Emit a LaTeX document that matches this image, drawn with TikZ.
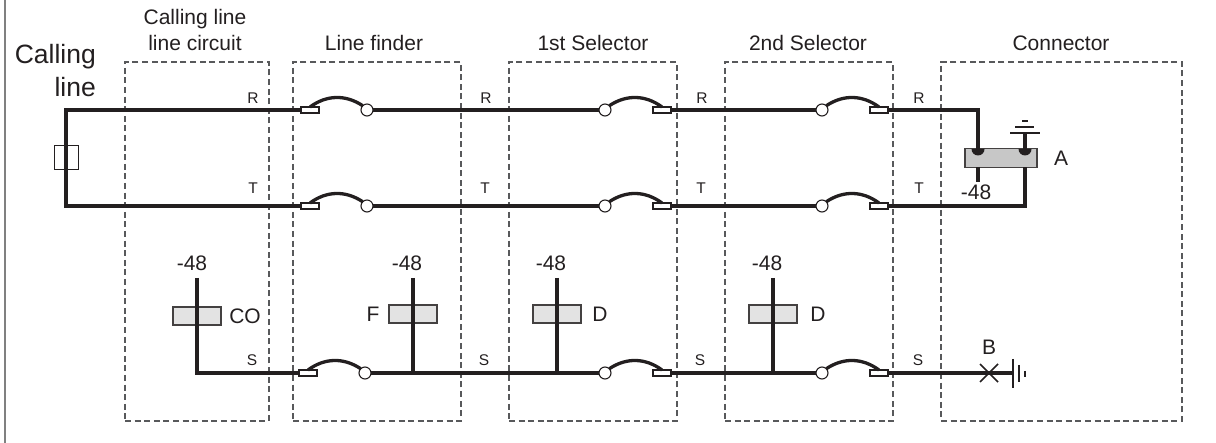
\documentclass[tikz,border=0pt]{standalone}
\usepackage{fontspec}
\setmainfont{Liberation Sans}
\definecolor{inkline}{HTML}{231F20}
\definecolor{dashgray}{HTML}{58595B}
\tikzset{
 wire/.style={draw=inkline, line width=3.7pt},
 springarm/.style={draw=inkline, line width=3.3pt, bend left=35},
 groupbox/.style={draw=dashgray, dashed, dash pattern=on 6pt off 3.6pt, line width=1.3pt, anchor=north west, inner sep=0pt, outer sep=0pt},
 contact/.style={draw=inkline, fill=white, line width=1.1pt, minimum width=18pt, minimum height=6pt, inner sep=0pt, outer sep=0pt},
 pivot/.style={draw=inkline, fill=white, circle, line width=1.1pt, minimum size=12pt, inner sep=0pt, outer sep=0pt},
 coil/.style={draw=inkline!85, fill=black!11, line width=1.1pt, minimum width=48pt, minimum height=18pt, inner sep=0pt, outer sep=0pt},
 biglabel/.style={text=inkline, inner sep=0pt, font=\fontsize{26.5}{30}\selectfont},
 midlabel/.style={text=inkline, inner sep=0pt, font=\fontsize{21}{24}\selectfont},
 wirelabel/.style={text=inkline, inner sep=0pt, font=\fontsize{15.5}{18}\selectfont},
 earth/.style={draw=inkline, line width=2pt}
}
\begin{document}
\begin{tikzpicture}[x=1pt, y=-1pt]
\useasboundingbox (0,0) rectangle (1216,443);

 \draw[black!50, line width=2.2pt] (5,0) -- (5,443);

% dashed groups
 \node[groupbox, minimum width=144pt, minimum height=359pt] (linecircuit) at (125,62) {};
 \node[groupbox, minimum width=168pt, minimum height=359pt] (linefinder) at (293,62) {};
 \node[groupbox, minimum width=168pt, minimum height=359pt] (selectorA) at (509,62) {};
 \node[groupbox, minimum width=168pt, minimum height=359pt] (selectorB) at (725,62) {};
 \node[groupbox, minimum width=241pt, minimum height=359pt] (connector) at (941,62) {};

 \node[midlabel] (titleA) at (195,19) {Calling line};
 \node[midlabel] (titleB) at (195,43) {line circuit};
 \node[midlabel] (titleC) at (374,43) {Line finder};
 \node[midlabel] (titleD) at (593,43) {1st Selector};
 \node[midlabel] (titleE) at (808,43) {2nd Selector};
 \node[midlabel] (titleF) at (1061,43) {Connector};
 \node[biglabel, anchor=east] (callingA) at (96,57) {Calling};
 \node[biglabel, anchor=east] (callingB) at (96,87) {line};

% contacts
 \node[contact] (fR) at (310,110) {};
 \node[pivot] (fRp) at (367,110) {};
 \node[contact] (fT) at (310,206) {};
 \node[pivot] (fTp) at (367,206) {};
 \node[contact] (fS) at (308,373) {};
 \node[pivot] (fSp) at (365,373) {};

 \node[contact] (aR) at (662,110) {};
 \node[pivot] (aRp) at (605,110) {};
 \node[contact] (aT) at (662,206) {};
 \node[pivot] (aTp) at (605,206) {};
 \node[contact] (aS) at (662,373) {};
 \node[pivot] (aSp) at (605,373) {};

 \node[contact] (bR) at (879,110) {};
 \node[pivot] (bRp) at (822,110) {};
 \node[contact] (bT) at (879,206) {};
 \node[pivot] (bTp) at (822,206) {};
 \node[contact] (bS) at (879,373) {};
 \node[pivot] (bSp) at (822,373) {};

 \draw[springarm] (fR.north) to (fRp.north west);
 \draw[springarm] (fT.north) to (fTp.north west);
 \draw[springarm] (fS.north) to (fSp.north west);
 \draw[springarm] (aRp.north east) to (aR.north);
 \draw[springarm] (aTp.north east) to (aT.north);
 \draw[springarm] (aSp.north east) to (aS.north);
 \draw[springarm] (bRp.north east) to (bR.north);
 \draw[springarm] (bTp.north east) to (bT.north);
 \draw[springarm] (bSp.north east) to (bS.north);

% calling line loop
 \node[draw=inkline, line width=1pt, minimum size=24pt, inner sep=0pt] (fuse) at (66,158) {};
 \coordinate (loopR) at (66,110);
 \coordinate (loopT) at (66,206);
 \draw[wire] (fR.west) -- (loopR) -- (loopT) -- (fT.west);

 \draw[wire] (fRp) -- (aRp);
 \draw[wire] (fTp) -- (aTp);
 \draw[wire] (fSp) -- (aSp);
 \draw[wire] (aR) -- (bRp);
 \draw[wire] (aT) -- (bTp);
 \draw[wire] (aS) -- (bSp);

% relay A
 \node[coil, fill=black!22, minimum width=72pt, minimum height=19pt] (relayA) at (1001,158) {};
 \node[midlabel] (relayAname) at (1061,158) {A};
 \coordinate (cornerR) at (978,110);
 \coordinate (cornerT) at (1025,206);
 \coordinate (feedA) at (978,149);
 \coordinate (returnA) at (1025,167);
 \coordinate (stubA) at (978,167);
 \coordinate (stubAend) at (978,182);
 \coordinate (earthA) at (1025,133);
 \coordinate (earthAend) at (1025,149);
 \draw[wire] (bR) -- (cornerR) -- (feedA);
 \draw[wire] (bT) -- (cornerT) -- (returnA);
 \draw[wire] (stubA) -- (stubAend);
 \draw[wire] (earthA) -- (earthAend);
 \fill[inkline] (971.5,149) arc[start angle=180, end angle=0, radius=6.5] -- cycle;
 \fill[inkline] (1018.5,149) arc[start angle=180, end angle=0, radius=6.5] -- cycle;
 \draw[earth] (1010,133) -- (1040,133);
 \draw[earth] (1015,127) -- (1034,127);
 \draw[earth] (1022,121) -- (1028,121);
 \node[midlabel] (voltA) at (976,192) {-48};

% coils on the S lead
 \node[coil] (coilCO) at (197,316) {};
 \node[midlabel] (nameCO) at (245,316) {CO};
 \node[midlabel] (voltCO) at (192,263) {-48};
 \coordinate (topCO) at (197,278);
 \coordinate (cornerS) at (197,373);
 \draw[wire] (topCO) -- (cornerS) -- (fS.west);

 \node[coil] (coilF) at (413,314) {};
 \node[midlabel] (nameF) at (373,314) {F};
 \node[midlabel] (voltF) at (407,263) {-48};
 \coordinate (topF) at (413,278);
 \coordinate (tapF) at (413,373);
 \draw[wire] (topF) -- (tapF);

 \node[coil] (coilD) at (557,314) {};
 \node[midlabel] (nameD) at (600,314) {D};
 \node[midlabel] (voltD) at (551,263) {-48};
 \coordinate (topD) at (557,278);
 \coordinate (tapD) at (557,373);
 \draw[wire] (topD) -- (tapD);

 \node[coil] (coilE) at (773,314) {};
 \node[midlabel] (nameE) at (818,314) {D};
 \node[midlabel] (voltE) at (767,263) {-48};
 \coordinate (topE) at (773,278);
 \coordinate (tapE) at (773,373);
 \draw[wire] (topE) -- (tapE);

% B and earth
 \coordinate (earthB) at (1013,373);
 \node[midlabel] (nameB) at (989,347) {B};
 \draw[wire] (bS) -- (earthB);
 \draw[inkline, line width=1.6pt] (980,364) -- (998,382);
 \draw[inkline, line width=1.6pt] (980,382) -- (998,364);
 \draw[earth] (1013,359) -- (1013,388);
 \draw[earth] (1019,365) -- (1019,382);
 \draw[earth] (1025,371) -- (1025,377);

% lead names
 \node[wirelabel] (labR1) at (253,98) {R};
 \node[wirelabel] (labR2) at (486,98) {R};
 \node[wirelabel] (labR3) at (702,98) {R};
 \node[wirelabel] (labR4) at (919,98) {R};
 \node[wirelabel] (labT1) at (253,188) {T};
 \node[wirelabel] (labT2) at (485,188) {T};
 \node[wirelabel] (labT3) at (701,188) {T};
 \node[wirelabel] (labT4) at (919,188) {T};
 \node[wirelabel] (labS1) at (252,360) {S};
 \node[wirelabel] (labS2) at (484,360) {S};
 \node[wirelabel] (labS3) at (700,360) {S};
 \node[wirelabel] (labS4) at (918,360) {S};

\end{tikzpicture}
\end{document}
